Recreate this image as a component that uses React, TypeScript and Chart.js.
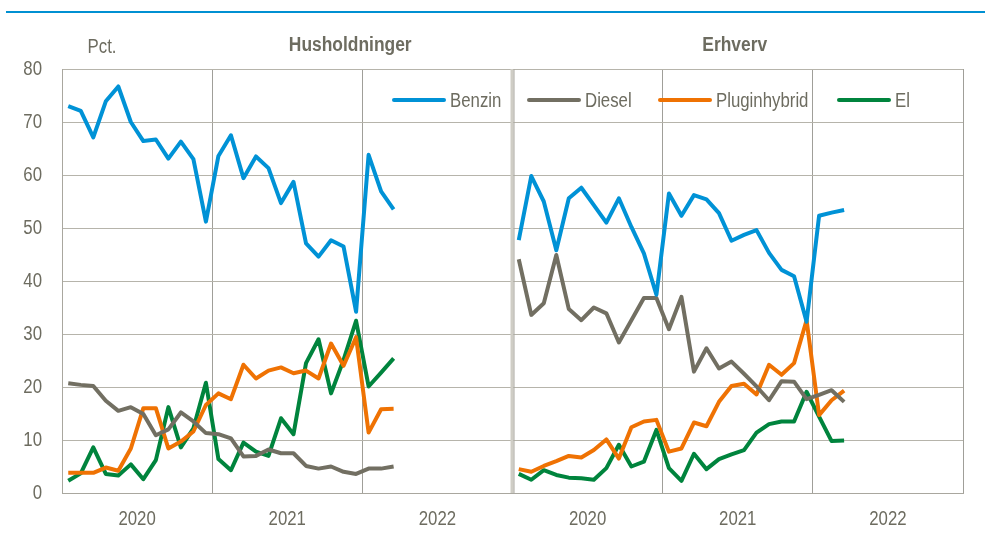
import { useEffect, useRef } from 'react';
import { Chart, registerables } from 'chart.js';

Chart.register(...registerables);

const years = ['2020', '2021', '2022'];
const panelTitles = ['Husholdninger', 'Erhverv'];
const seriesNames = ['Benzin', 'Diesel', 'Pluginhybrid', 'El'];
const seriesColors = ['#0092d6', '#726f62', '#ef7203', '#00843d'];
const yTicks = [0, 10, 20, 30, 40, 50, 60, 70, 80];
const unitLabel = 'Pct.';

// Husholdninger, monthly Jan 2020 - Mar 2022
const benzinHH = [73.0, 72.1, 67.1, 73.9, 76.7, 70.0, 66.4, 66.7, 63.1, 66.3, 63.0, 51.2, 63.6, 67.5, 59.4, 63.5, 61.3, 54.7, 58.7, 47.1, 44.6, 47.7, 46.5, 34.2, 63.8, 56.9, 53.5];
const dieselHH = [20.7, 20.4, 20.2, 17.4, 15.5, 16.2, 14.9, 10.9, 12.0, 15.2, 13.5, 11.3, 11.1, 10.3, 6.9, 7.0, 8.2, 7.5, 7.5, 5.1, 4.6, 5.0, 4.0, 3.6, 4.6, 4.6, 5.0];
const pluginHH = [3.8, 3.8, 3.8, 4.8, 4.2, 8.4, 16.0, 16.0, 8.4, 9.7, 11.6, 16.6, 18.8, 17.7, 24.2, 21.6, 23.1, 23.7, 22.6, 23.1, 21.6, 28.2, 24.0, 29.4, 11.4, 15.8, 15.9];
const elHH = [2.3, 3.7, 8.6, 3.6, 3.3, 5.4, 2.6, 6.2, 16.2, 8.6, 12.2, 20.8, 6.4, 4.3, 9.5, 7.8, 7.0, 14.1, 11.1, 24.5, 29.0, 18.8, 25.1, 32.5, 20.1, 22.7, 25.4];

// Erhverv, monthly Jan 2020 - Mar 2022
const benzinER = [47.7, 59.8, 55.0, 45.8, 55.6, 57.6, 54.3, 51.0, 55.6, 50.2, 45.2, 37.4, 56.5, 52.3, 56.2, 55.4, 52.8, 47.6, 48.7, 49.6, 45.3, 42.1, 40.9, 32.3, 52.3, 52.9, 53.4];
const dieselER = [44.1, 33.6, 35.8, 44.9, 34.7, 32.6, 35.0, 33.9, 28.4, 32.6, 36.8, 36.8, 30.9, 37.0, 22.9, 27.3, 23.5, 24.8, 22.5, 20.1, 17.5, 21.1, 21.0, 17.7, 18.5, 19.4, 17.2];
const pluginER = [4.5, 4.0, 5.1, 6.0, 7.0, 6.7, 8.1, 10.1, 6.5, 12.4, 13.5, 13.8, 7.8, 8.4, 13.3, 12.6, 17.2, 20.2, 20.6, 18.6, 24.2, 22.3, 24.5, 32.6, 14.7, 17.5, 19.3];
const elER = [3.6, 2.5, 4.3, 3.4, 2.9, 2.8, 2.5, 4.7, 9.1, 5.0, 5.9, 11.9, 4.7, 2.3, 7.4, 4.5, 6.4, 7.3, 8.1, 11.4, 13.0, 13.5, 13.5, 19.1, 14.4, 9.8, 9.9];

const hhSeries = [benzinHH, dieselHH, pluginHH, elHH];
const erSeries = [benzinER, dieselER, pluginER, elER];

const MONTHS_PER_PANEL = 36;
const TEXT = '#6d6c60';
const FONT = "'Liberation Sans', Arial, sans-serif";
const SQUEEZE = 0.84;
const SQUEEZE_BOLD = 0.87;

function buildData(hh: number[], er: number[]) {
  const pts: { x: number; y: number | null }[] = [];
  hh.forEach((v, i) => pts.push({ x: i + 0.5, y: v }));
  pts.push({ x: MONTHS_PER_PANEL, y: null });
  er.forEach((v, i) => pts.push({ x: MONTHS_PER_PANEL + i + 0.5, y: v }));
  return pts;
}

function condensedText(ctx: any, text: string, x: number, y: number, k: number) {
  ctx.save();
  ctx.translate(x, y);
  ctx.scale(k, 1);
  ctx.fillText(text, 0, 0);
  ctx.restore();
}

// draw the axis tick labels horizontally condensed (narrow font look)
function condenseScaleLabels(s: any) {
  if (s.__condensed) return;
  s.__condensed = true;
  const orig = s.drawLabels.bind(s);
  s.drawLabels = (area: any) => {
    const ctx = s.ctx;
    const f = ctx.fillText;
    ctx.fillText = function (t: string, x: number, y: number) {
      this.save();
      this.translate(x, y);
      this.scale(SQUEEZE, 1);
      f.call(this, t, 0, 0);
      this.restore();
    };
    try {
      orig(area);
    } finally {
      delete ctx.fillText;
    }
  };
}

const legendX = [392, 527, 658, 837];

const decorPlugin = {
  id: 'decor',
  afterDraw(chart: any) {
    const ctx = chart.ctx;
    const xs = chart.scales.x;
    const area = chart.chartArea;
    ctx.save();
    // panel divider (double line)
    const xd = xs.getPixelForValue(MONTHS_PER_PANEL);
    ctx.fillStyle = '#cfcdc5';
    ctx.fillRect(xd - 2, area.top, 3, area.bottom - area.top);
    ctx.fillStyle = '#a8a69e';
    ctx.fillRect(xd + 1, area.top, 1, area.bottom - area.top);

    // panel titles
    ctx.font = `bold 20px ${FONT}`;
    ctx.fillStyle = TEXT;
    ctx.textAlign = 'center';
    ctx.textBaseline = 'middle';
    const c1 = xs.getPixelForValue(MONTHS_PER_PANEL / 2) + 63;
    const c2 = xs.getPixelForValue(MONTHS_PER_PANEL * 1.5) - 3;
    condensedText(ctx, panelTitles[0], c1, 45, SQUEEZE_BOLD);
    condensedText(ctx, panelTitles[1], c2, 45, SQUEEZE_BOLD);

    // unit
    ctx.font = `20px ${FONT}`;
    condensedText(ctx, unitLabel, 102, 47, SQUEEZE);

    // legend
    ctx.textAlign = 'left';
    seriesNames.forEach((name, i) => {
      const x0 = legendX[i];
      ctx.strokeStyle = seriesColors[i];
      ctx.lineWidth = 4;
      ctx.lineCap = 'round';
      ctx.beginPath();
      ctx.moveTo(x0 + 2, 100);
      ctx.lineTo(x0 + 52, 100);
      ctx.stroke();
      ctx.fillStyle = TEXT;
      condensedText(ctx, name, x0 + 58, 101, SQUEEZE);
    });
    ctx.restore();
  },
};

export default function App() {
  const ref = useRef<HTMLCanvasElement | null>(null);
  useEffect(() => {
    if (!ref.current) return;
    const chart = new Chart(ref.current, {
      type: 'line',
      data: {
        datasets: seriesNames.map((name, i) => ({
          label: name,
          data: buildData(hhSeries[i], erSeries[i]),
          borderColor: seriesColors[i],
          backgroundColor: seriesColors[i],
          borderWidth: 4,
          pointRadius: 0,
          tension: 0,
          spanGaps: false,
          borderJoinStyle: 'round',
        })),
      },
      options: {
        animation: false,
        responsive: false,
        maintainAspectRatio: false,
        layout: { padding: { top: 69, right: 22, left: 0, bottom: 0 } },
        plugins: { legend: { display: false }, tooltip: { enabled: false }, title: { display: false } },
        scales: {
          x: {
            type: 'linear',
            min: 0,
            max: MONTHS_PER_PANEL * 2,
            afterFit: (s: any) => { s.height = 40; condenseScaleLabels(s); },
            afterBuildTicks: (s: any) => {
              const t = [];
              for (let v = 0; v <= MONTHS_PER_PANEL * 2; v += 6) t.push({ value: v });
              s.ticks = t;
            },
            ticks: {
              autoSkip: false,
              maxRotation: 0,
              padding: 14,
              color: TEXT,
              font: { family: FONT, size: 20 },
              callback: (v: any) => {
                const n = Number(v);
                if (n % 12 === 6) return years[Math.floor(n / 12) % years.length];
                return '';
              },
            },
            grid: {
              drawTicks: false,
              color: (c: any) => {
                const v = c.tick ? c.tick.value : -1;
                if (v % 12 !== 0 || v === MONTHS_PER_PANEL) return 'rgba(0,0,0,0)';
                return '#a09f99';
              },
              lineWidth: 1,
            },
            border: { display: true, color: '#a9a79f', width: 1 },
          },
          y: {
            min: 0,
            max: 80,
            afterFit: (s: any) => { s.width = 62; condenseScaleLabels(s); },
            afterBuildTicks: (s: any) => { s.ticks = yTicks.map((v) => ({ value: v })); },
            ticks: {
              padding: 20,
              color: TEXT,
              font: { family: FONT, size: 20 },
            },
            grid: { drawTicks: false, color: '#b6b4ab', lineWidth: 1 },
            border: { display: true, color: '#a9a79f', width: 1 },
          },
        },
      },
      plugins: [decorPlugin],
    } as any);
    return () => chart.destroy();
  }, []);

  return (
    <div style={{ position: 'fixed', left: 0, top: 0, width: 985, height: 533, background: '#fff' }}>
      <div style={{ position: 'absolute', left: 6, right: 0, top: 11, height: 2, background: '#0090d2' }} />
      <canvas ref={ref} width={985} height={533} style={{ display: 'block', width: 985, height: 533 }} />
    </div>
  );
}
